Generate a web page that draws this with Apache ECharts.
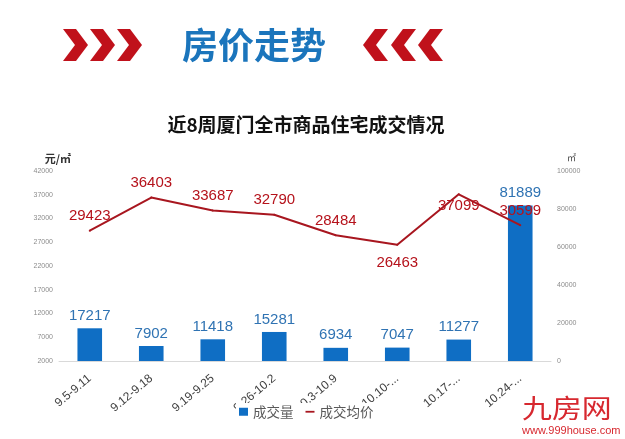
<!DOCTYPE html>
<html><head><meta charset="utf-8">
<script src="https://cdn.jsdelivr.net/npm/echarts@6/dist/echarts.min.js"></script>
<style>html,body{margin:0;padding:0;background:#fff}#c{width:625px;height:439px}</style>
</head><body><div id="c"></div>
<script>
// ---- data ----
const categories = ['9.5-9.11','9.12-9.18','9.19-9.25','9.26-10.2','10.3-10.9','10.10-10.16','10.17-10.23','10.24-10.30'];
const volume = [17217, 7902, 11418, 15281, 6934, 7047, 11277, 81889];      // 成交量 (㎡)
const avgPrice = [29423, 36403, 33687, 32790, 28484, 26463, 37099, 30599]; // 成交均价 (元/㎡)
const priceAxis = {min: 2000, max: 42000, interval: 5000};
const volumeAxis = {min: 0, max: 100000, interval: 20000};

const belowLabels = [5, 6];
const CJK = '"Noto Sans CJK SC", sans-serif';
const LAT = '"Liberation Sans", Arial, sans-serif';
const RED = '#c0111b';

function chevron(x0, dir) {
  const w = 25, t = 13, top = 29, bot = 61, mid = 45;
  let pts;
  if (dir > 0) pts = [[x0, top], [x0 + t, top], [x0 + w, mid], [x0 + t, bot], [x0, bot], [x0 + w - t, mid]];
  else pts = [[x0 + w, top], [x0 + w - t, top], [x0, mid], [x0 + w - t, bot], [x0 + w, bot], [x0 + t, mid]];
  return {type: 'polygon', shape: {points: pts}, style: {fill: RED}};
}

const plain = v => String(v);

const chart = echarts.init(document.getElementById('c'), null, {renderer: 'canvas'});
chart.setOption({
  backgroundColor: '#fff',
  animation: false,
  graphic: [
    chevron(63, 1), chevron(90, 1), chevron(117, 1),
    chevron(363, -1), chevron(391, -1), chevron(418, -1),
    {type: 'text', x: 254, y: 45, style: {text: '房价走势', fill: '#1b75bc', font: 'bold 36px ' + CJK, align: 'center', verticalAlign: 'middle'}},
    {type: 'text', x: 306, y: 125, style: {text: '近8周厦门全市商品住宅成交情况', fill: '#111', font: 'bold 19px ' + CJK, align: 'center', verticalAlign: 'middle'}},
    {type: 'text', x: 522, y: 408, scaleX: 1.15, style: {text: '九房网', fill: '#d7282f', font: '26px ' + CJK, align: 'left', verticalAlign: 'middle'}},
    {type: 'text', x: 522, y: 431, style: {text: 'www.999house.com', fill: '#d7282f', font: '11px ' + LAT, align: 'left', verticalAlign: 'middle'}}
  ],
  grid: {left: 59, right: 74, top: 171, bottom: 78},
  legend: {
    top: 403, left: 236, padding: [2, 3], itemGap: 12, itemWidth: 9, itemHeight: 8,
    backgroundColor: '#fff',
    textStyle: {fontSize: 13.5, color: '#595959', fontFamily: CJK},
    data: [
      {name: '成交量', icon: 'rect'},
      {name: '成交均价', icon: 'path://M0,0h10v2h-10z'}
    ]
  },
  xAxis: {
    type: 'category', data: categories,
    axisLine: {lineStyle: {color: '#d9d9d9'}},
    axisTick: {show: false},
    axisLabel: {
      rotate: 40, margin: 16, fontSize: 12, color: '#404040', fontFamily: LAT, interval: 0,
      formatter: s => s.length > 9 ? s.slice(0, 6) + '...' : s
    }
  },
  yAxis: [
    {
      type: 'value', min: priceAxis.min, max: priceAxis.max, interval: priceAxis.interval,
      name: '元/㎡', nameLocation: 'end', nameGap: 7,
      nameTextStyle: {fontSize: 11, fontWeight: 'bold', color: '#333', fontFamily: CJK, align: 'right', padding: [0, -12, 0, 0]},
      axisLine: {show: false}, axisTick: {show: false}, splitLine: {show: false},
      axisLabel: {fontSize: 7, color: '#8c8c8c', fontFamily: LAT, margin: 6, formatter: plain}
    },
    {
      type: 'value', min: volumeAxis.min, max: volumeAxis.max, interval: volumeAxis.interval,
      name: '㎡', nameLocation: 'end', nameGap: 9,
      nameTextStyle: {fontSize: 9, color: '#444', fontFamily: CJK, align: 'left', padding: [0, 0, 0, 16]},
      axisLine: {show: false}, axisTick: {show: false}, splitLine: {show: false},
      axisLabel: {fontSize: 7, color: '#8c8c8c', fontFamily: LAT, margin: 6, formatter: plain}
    }
  ],
  series: [
    {
      name: '成交量', type: 'bar', yAxisIndex: 1, barWidth: '40%',
      itemStyle: {color: '#0f6ec4'},
      label: {show: true, position: 'top', distance: 5, fontSize: 15, color: '#2f73b3', fontFamily: LAT},
      data: volume, z: 2
    },
    {
      name: '成交均价', type: 'line', yAxisIndex: 0, symbol: 'circle', symbolSize: 2, showSymbol: true,
      lineStyle: {width: 2, color: '#a8161f'}, itemStyle: {color: '#a8161f'},
      label: {show: true, position: 'top', distance: 6, fontSize: 15, color: '#b5121b', fontFamily: LAT},
      data: avgPrice.map((v, i) => belowLabels.includes(i) ? {value: v, label: {position: 'bottom', distance: i === 6 ? 3 : 10}} : v),
      z: 3
    }
  ]
});
</script></body></html>
